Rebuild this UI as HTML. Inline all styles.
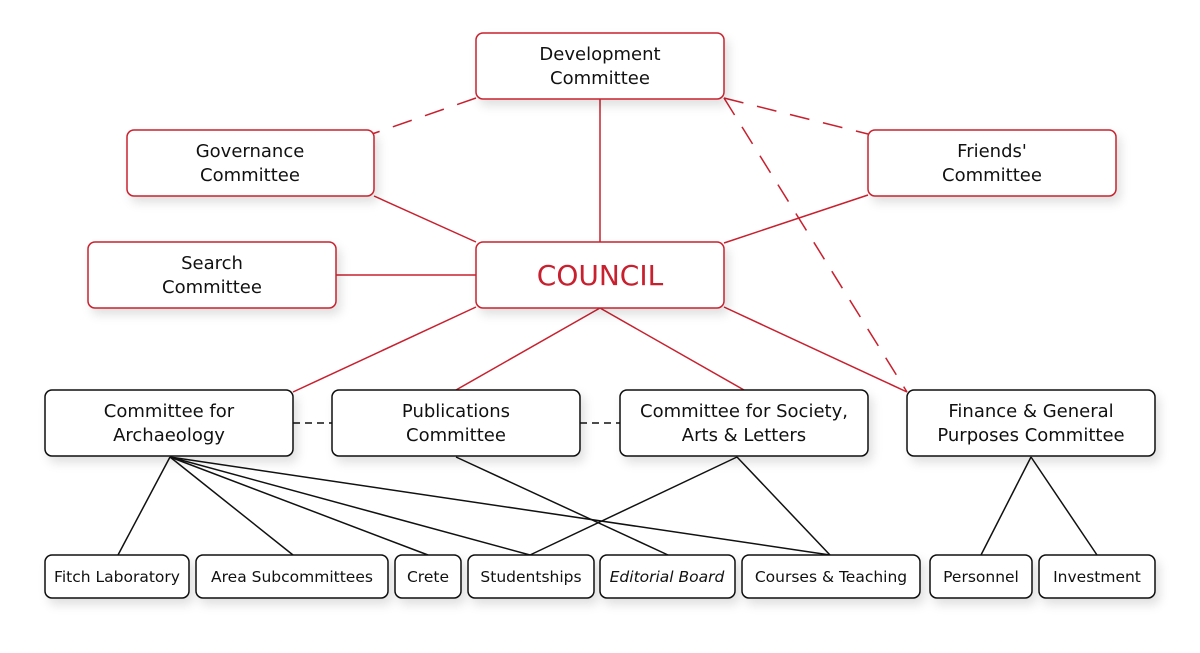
<!DOCTYPE html>
<html><head><meta charset="utf-8"><style>
html,body{margin:0;padding:0;background:#fff}
svg{display:block}
text{font-family:"DejaVu Sans","Liberation Sans",sans-serif;fill:#111;text-anchor:middle}
</style></head><body>
<svg width="1200" height="653" viewBox="0 0 1200 653" xmlns="http://www.w3.org/2000/svg">
<defs><filter id="sh" x="-10%" y="-20%" width="130%" height="160%"><feDropShadow dx="4" dy="6" stdDeviation="5" flood-color="#000" flood-opacity="0.12"/></filter></defs>
<g stroke="#c8202e" stroke-width="1.5" fill="none">
<line x1="600" y1="99" x2="600" y2="242"/>
<line x1="374" y1="196" x2="476" y2="242"/>
<line x1="868" y1="195" x2="724" y2="243"/>
<line x1="336" y1="275" x2="476" y2="275"/>
<line x1="476" y1="307" x2="293" y2="392"/>
<line x1="600" y1="308" x2="456" y2="390"/>
<line x1="600" y1="308" x2="744" y2="390"/>
<line x1="724" y1="307" x2="907" y2="392"/>
<g stroke-dasharray="20,14"><line x1="476" y1="98" x2="372" y2="134"/><line x1="724" y1="98" x2="868" y2="134"/><line x1="724" y1="98" x2="907" y2="392"/></g>
</g>
<g stroke="#111" stroke-width="1.5" fill="none">
<line x1="293" y1="423" x2="332" y2="423" stroke-dasharray="7,5"/>
<line x1="580" y1="423" x2="620" y2="423" stroke-dasharray="7,5"/>
<line x1="170" y1="457" x2="118" y2="555"/>
<line x1="170" y1="457" x2="293" y2="555"/>
<line x1="170" y1="457" x2="428" y2="555"/>
<line x1="170" y1="457" x2="530" y2="555"/>
<line x1="170" y1="457" x2="830" y2="555"/>
<line x1="456" y1="457" x2="668" y2="555"/>
<line x1="737" y1="457" x2="530" y2="555"/>
<line x1="737" y1="457" x2="830" y2="555"/>
<line x1="1031" y1="457" x2="981" y2="555"/>
<line x1="1031" y1="457" x2="1097" y2="555"/>
</g>
<g fill="#fff" stroke="#c8202e" stroke-width="1.5" filter="url(#sh)">
<rect x="476" y="33" width="248" height="66" rx="7"/>
<rect x="127" y="130" width="247" height="66" rx="7"/>
<rect x="868" y="130" width="248" height="66" rx="7"/>
<rect x="88" y="242" width="248" height="66" rx="7"/>
<rect x="476" y="242" width="248" height="66" rx="7"/>
</g>
<g fill="#fff" stroke="#111" stroke-width="1.5" filter="url(#sh)">
<rect x="45" y="390" width="248" height="66" rx="7"/>
<rect x="332" y="390" width="248" height="66" rx="7"/>
<rect x="620" y="390" width="248" height="66" rx="7"/>
<rect x="907" y="390" width="248" height="66" rx="7"/>
<rect x="45" y="555" width="144" height="43" rx="7"/>
<rect x="196" y="555" width="192" height="43" rx="7"/>
<rect x="395" y="555" width="66" height="43" rx="7"/>
<rect x="468" y="555" width="126" height="43" rx="7"/>
<rect x="600" y="555" width="135" height="43" rx="7"/>
<rect x="742" y="555" width="178" height="43" rx="7"/>
<rect x="930" y="555" width="102" height="43" rx="7"/>
<rect x="1039" y="555" width="116" height="43" rx="7"/>
</g>
<g font-size="18">
<text x="600" y="60">Development</text><text x="600" y="84">Committee</text>
<text x="250" y="157">Governance</text><text x="250" y="181">Committee</text>
<text x="992" y="157">Friends'</text><text x="992" y="181">Committee</text>
<text x="212" y="269">Search</text><text x="212" y="293">Committee</text>
<text x="169" y="417">Committee for</text><text x="169" y="441">Archaeology</text>
<text x="456" y="417">Publications</text><text x="456" y="441">Committee</text>
<text x="744" y="417">Committee for Society,</text><text x="744" y="441">Arts &amp; Letters</text>
<text x="1031" y="417">Finance &amp; General</text><text x="1031" y="441">Purposes Committee</text>
</g>
<text x="600" y="285" font-size="28" style="fill:#c8202e">COUNCIL</text>
<g font-size="15.5">
<text x="117" y="582">Fitch Laboratory</text>
<text x="292" y="582">Area Subcommittees</text>
<text x="428" y="582">Crete</text>
<text x="531" y="582">Studentships</text>
<text x="667" y="582" font-style="italic">Editorial Board</text>
<text x="831" y="582">Courses &amp; Teaching</text>
<text x="981" y="582">Personnel</text>
<text x="1097" y="582">Investment</text>
</g>
</svg>
</body></html>
